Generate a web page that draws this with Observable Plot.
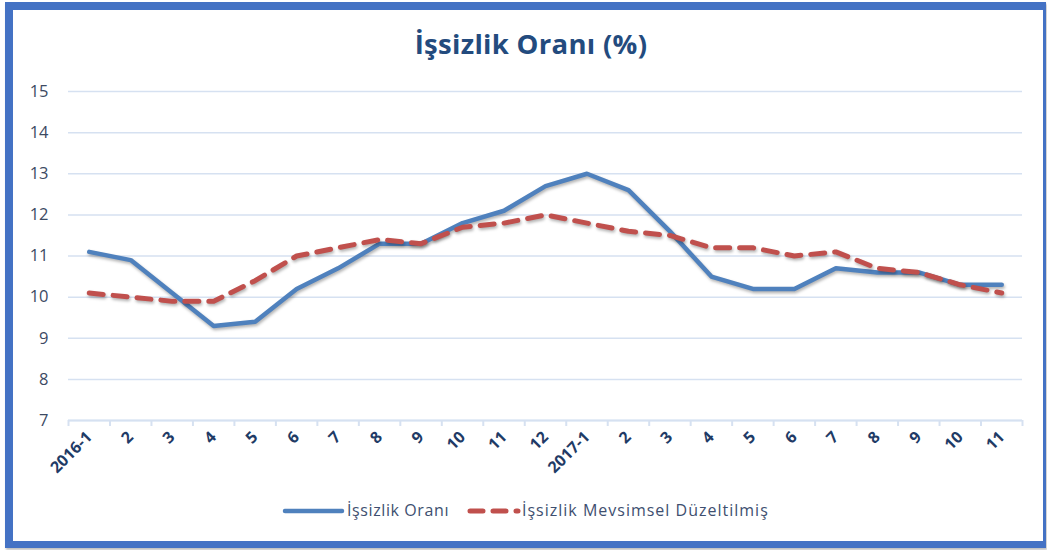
<!DOCTYPE html>
<html>
<head>
<meta charset="utf-8">
<script src="https://cdn.jsdelivr.net/npm/d3@7"></script>
<script src="https://cdn.jsdelivr.net/npm/@observablehq/plot@0.6"></script>
<style>
  html, body { margin: 0; padding: 0; background: #fff; }
  #wrap { position: relative; width: 1047px; height: 550px; overflow: hidden; background: #fff; }
  #frame { position: absolute; left: 5px; top: 2px; width: 1030px; height: 531px;
           border-top: 8px solid #4472C4; border-left: 8px solid #4472C4;
           border-bottom: 7px solid #4472C4; border-right: 3px solid #4472C4;
           box-shadow: 1px 2px 2px rgba(0,0,0,0.25); pointer-events: none; }
  #title { position: absolute; left: 0; width: 1062px; top: 25px; text-align: center;
           font-family: "Open Sans", Lato, sans-serif; font-weight: bold; font-size: 27.5px; color: #234B7E; letter-spacing: 0.3px; }
  #chart { position: absolute; left: 0; top: 0; }
  #legend { position: absolute; top: 500px; left: 0; width: 1047px; height: 24px; }
  g[aria-label="line"] { filter: drop-shadow(1px 2px 1.5px rgba(0,0,0,0.3)); }
</style>
</head>
<body>
<div id="wrap">
  <div id="chart"></div>
  <div id="frame"></div>
  <div id="title">İşsizlik Oranı (%)</div>
  <div id="legend"></div>
</div>
<script>
const xLabels = ["2016-1","2","3","4","5","6","7","8","9","10","11","12","2017-1","2","3","4","5","6","7","8","9","10","11"];
const issizlikOrani = [11.1,10.9,10.1,9.3,9.4,10.2,10.7,11.3,11.3,11.8,12.1,12.7,13.0,12.6,11.6,10.5,10.2,10.2,10.7,10.6,10.6,10.3,10.3];
const mevsimselDuzeltilmis = [10.1,10.0,9.9,9.9,10.4,11.0,11.2,11.4,11.3,11.7,11.8,12.0,11.8,11.6,11.5,11.2,11.2,11.0,11.1,10.7,10.6,10.3,10.1];
const yTicks = [7,8,9,10,11,12,13,14,15];
const seriesNames = ["İşsizlik Oranı", "İşsizlik Mevsimsel Düzeltilmiş"];
const seriesColors = ["#4F81BD", "#C0504D"];

const rows = xLabels.map((lab, i) => ({i, a: issizlikOrani[i], b: mevsimselDuzeltilmis[i]}));
const idx = d3.range(xLabels.length);
const bounds = d3.range(xLabels.length + 1).map(k => k - 0.5);

const chart = Plot.plot({
  width: 1047,
  height: 550,
  marginLeft: 68,
  marginRight: 25,
  marginTop: 91,
  marginBottom: 130,
  style: {fontFamily: "'Open Sans', Lato, sans-serif", background: "transparent"},
  x: {domain: [-0.5, xLabels.length - 0.5]},
  y: {domain: [7, 15]},
  marks: [
    Plot.gridY(yTicks, {stroke: "#D6E1F1", strokeOpacity: 1, strokeWidth: 1.5}),
    Plot.ruleY([7], {stroke: "#D6E1F1", strokeWidth: 2}),
    Plot.axisY(yTicks, {tickSize: 0, tickPadding: 20, fontSize: 16.5, color: "#3C4A63", label: null}),
    Plot.axisX(bounds, {tickSize: 6, tickFormat: () => "", color: "#D6E1F1", strokeWidth: 2, label: null}),
    Plot.axisX(idx, {tickSize: 0, tickPadding: 14, tickRotate: -45, tickFormat: i => xLabels[i],
                     fontSize: 16, fontWeight: "bold", color: "#1F3B66", label: null}),
    Plot.line(rows, {x: "i", y: "a", stroke: seriesColors[0], strokeWidth: 4.5, strokeLinejoin: "round", strokeLinecap: "round"}),
    Plot.line(rows, {x: "i", y: "b", stroke: seriesColors[1], strokeWidth: 5, strokeDasharray: "14,10", strokeLinecap: "round", strokeLinejoin: "round"})
  ]
});
document.getElementById("chart").appendChild(chart);

// legend
const legFont = "'Open Sans', Lato, sans-serif";
const leg = d3.select("#legend").append("svg").attr("width", 1047).attr("height", 24);
leg.append("line").attr("x1", 285).attr("x2", 342).attr("y1", 11).attr("y2", 11)
  .attr("stroke", seriesColors[0]).attr("stroke-width", 4.5).attr("stroke-linecap", "round");
leg.append("text").attr("x", 347).attr("y", 16).attr("fill", "#3E4F70")
  .style("font-family", legFont).style("font-size", "16px").style("letter-spacing", "0.6px").text(seriesNames[0]);
leg.append("line").attr("x1", 470).attr("x2", 518).attr("y1", 11).attr("y2", 11)
  .attr("stroke", seriesColors[1]).attr("stroke-width", 5).attr("stroke-linecap", "round")
  .attr("stroke-dasharray", "13,10");
leg.append("text").attr("x", 522).attr("y", 16).attr("fill", "#3E4F70")
  .style("font-family", legFont).style("font-size", "16px").style("letter-spacing", "1px").text(seriesNames[1]);
</script>
</body>
</html>
